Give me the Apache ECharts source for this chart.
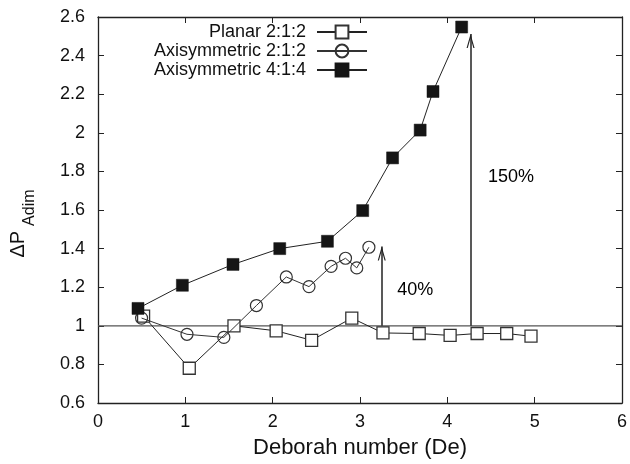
<!DOCTYPE html>
<html>
<head>
<meta charset="utf-8">
<script src="https://cdn.jsdelivr.net/npm/echarts@6/dist/echarts.min.js"></script>
<style>html,body{margin:0;padding:0;background:#fff}#c{width:630px;height:464px}</style>
</head>
<body>
<div id="c"></div>
<script>
var xTicks = [0, 1, 2, 3, 4, 5, 6];
var yTicks = [0.6, 0.8, 1, 1.2, 1.4, 1.6, 1.8, 2, 2.2, 2.4, 2.6];

var planarX = [0.522, 1.045, 1.557, 2.040, 2.446, 2.906, 3.263, 3.678, 4.032, 4.341, 4.680, 4.958];
var planarY = [1.05, 0.78, 1.00, 0.974, 0.925, 1.04, 0.963, 0.96, 0.95, 0.96, 0.96, 0.946];

var axi2X = [0.499, 1.019, 1.441, 1.814, 2.156, 2.416, 2.669, 2.834, 2.963, 3.102];
var axi2Y = [1.04, 0.956, 0.94, 1.105, 1.253, 1.203, 1.308, 1.35, 1.30, 1.407];

var axi4X = [0.458, 0.966, 1.546, 2.081, 2.627, 3.031, 3.373, 3.689, 3.836, 4.164];
var axi4Y = [1.09, 1.21, 1.318, 1.40, 1.438, 1.597, 1.87, 2.014, 2.214, 2.548];

var refLineX = [0, 6];
var refLineY = [1, 1];

var arrowX = [3.249, 4.266];
var arrowFrom = [1, 1];
var arrowTo = [1.411, 2.512];

var noteText = ['40%', '150%'];
var noteX = [3.633, 4.729];
var noteY = [1.186, 1.77];

function pairs(xs, ys) { return xs.map(function (x, i) { return [x, ys[i]]; }); }

var FONT = 'Liberation Sans, Arial, Helvetica, sans-serif';
var chevron = 'path://M5,0 L10,14 L8.5,14 L5,4 L1.5,14 L0,14 Z M5,-14 L5.01,-14 L5,-13.99 Z';

var chart = echarts.init(document.getElementById('c'), null, {renderer: 'canvas'});
chart.setOption({
  animation: false,
  backgroundColor: '#fff',
  grid: {left: 96, right: 3, top: 17, bottom: 58, containLabel: false},
  legend: {
    orient: 'vertical',
    right: 257,
    top: 18,
    align: 'right',
    itemWidth: 50,
    itemHeight: 16,
    itemGap: 1,
    textStyle: {fontFamily: FONT, fontSize: 18, color: '#111', padding: [0, 6, 0, 0]},
    data: ['Planar 2:1:2', 'Axisymmetric 2:1:2', 'Axisymmetric 4:1:4']
  },
  xAxis: [{
    type: 'value', min: 0, max: 6, interval: 1,
    name: 'Deborah number (De)', nameLocation: 'middle', nameGap: 34,
    nameTextStyle: {fontFamily: FONT, fontSize: 22, color: '#111'},
    axisLine: {show: true, onZero: false, lineStyle: {color: '#222', width: 1.3}},
    axisTick: {show: true, inside: true, length: 6, lineStyle: {color: '#222'}},
    axisLabel: {fontFamily: FONT, fontSize: 18, color: '#111', margin: 10},
    splitLine: {show: false}
  }, {
    type: 'value', min: 0, max: 6, interval: 1, position: 'top',
    axisLine: {show: true, onZero: false, lineStyle: {color: '#222', width: 1.3}},
    axisTick: {show: true, inside: true, length: 6, lineStyle: {color: '#222'}},
    axisLabel: {show: false}, splitLine: {show: false}
  }],
  yAxis: [{
    type: 'value', min: 0.6, max: 2.6, interval: 0.2,
    name: '{d|ΔP}{s|Adim}', nameLocation: 'middle', nameGap: 60, nameRotate: 90,
    nameTextStyle: {
      fontFamily: FONT, color: '#111',
      rich: {
        d: {fontFamily: FONT, fontSize: 20, color: '#111', verticalAlign: 'top', lineHeight: 30},
        s: {fontFamily: FONT, fontSize: 16, color: '#111', verticalAlign: 'bottom', lineHeight: 30, padding: [0, 27, 0, 5]}
      }
    },
    axisLine: {show: true, onZero: false, lineStyle: {color: '#222', width: 1.3}},
    axisTick: {show: true, inside: true, length: 6, lineStyle: {color: '#222'}},
    axisLabel: {fontFamily: FONT, fontSize: 18, color: '#111', margin: 13},
    splitLine: {show: false}
  }, {
    type: 'value', min: 0.6, max: 2.6, interval: 0.2, position: 'right',
    axisLine: {show: true, onZero: false, lineStyle: {color: '#222', width: 1.3}},
    axisTick: {show: true, inside: true, length: 6, lineStyle: {color: '#222'}},
    axisLabel: {show: false}, splitLine: {show: false}
  }],
  series: [{
    name: 'ref', type: 'line', data: pairs(refLineX, refLineY), symbol: 'none',
    lineStyle: {color: '#555', width: 1.2}, silent: true, z: 1
  }, {
    name: 'arrows', type: 'line', data: [], symbol: 'none', silent: true,
    markLine: {
      silent: true, animation: false,
      symbol: ['none', chevron], symbolSize: [8, 28],
      label: {show: false},
      lineStyle: {color: '#222', width: 1.5, type: 'solid'},
      data: arrowX.map(function (x, i) {
        return [{coord: [x, arrowFrom[i]]}, {coord: [x, arrowTo[i]]}];
      })
    }
  }, {
    name: 'notes', type: 'scatter', symbolSize: 0, silent: true,
    itemStyle: {color: '#000'},
    data: noteX.map(function (x, i) { return {value: [x, noteY[i]], name: noteText[i]}; }),
    label: {show: true, position: 'inside', formatter: '{b}', fontFamily: FONT, fontSize: 18, color: '#000', opacity: 1}
  }, {
    name: 'Planar 2:1:2', type: 'line', data: pairs(planarX, planarY),
    symbol: 'rect', symbolSize: 12,
    itemStyle: {color: '#fff', borderColor: '#333', borderWidth: 1.3},
    lineStyle: {color: '#222', width: 1}, z: 3
  }, {
    name: 'Axisymmetric 2:1:2', type: 'line', data: pairs(axi2X, axi2Y),
    symbol: 'circle', symbolSize: 12,
    itemStyle: {color: 'rgba(255,255,255,0)', borderColor: '#333', borderWidth: 1.2},
    lineStyle: {color: '#333', width: 1}, z: 4
  }, {
    name: 'Axisymmetric 4:1:4', type: 'line', data: pairs(axi4X, axi4Y),
    symbol: 'rect', symbolSize: 12,
    itemStyle: {color: '#151515', borderColor: '#151515', borderWidth: 0.5},
    lineStyle: {color: '#222', width: 1}, z: 5
  }]
});
</script>
</body>
</html>
